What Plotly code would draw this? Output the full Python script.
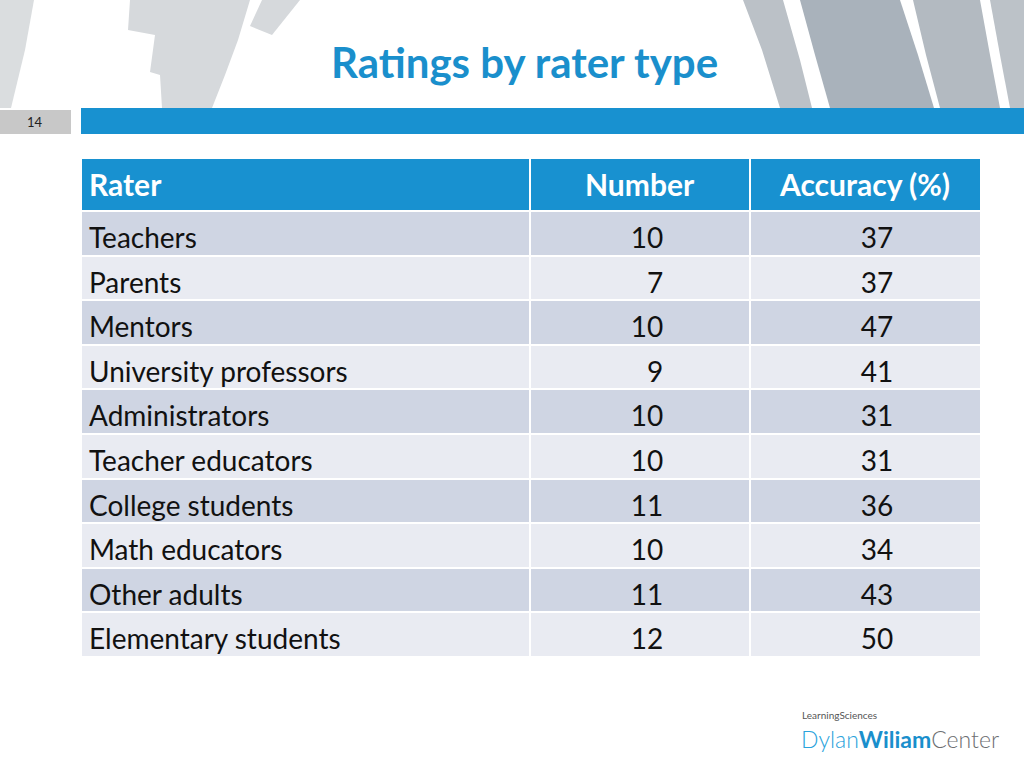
import plotly.graph_objects as go

# ---- data ----
title_text = "Ratings by rater type"
slide_number = "14"
columns = ["Rater", "Number", "Accuracy (%)"]
raters = ["Teachers", "Parents", "Mentors", "University professors", "Administrators",
          "Teacher educators", "College students", "Math educators", "Other adults",
          "Elementary students"]
numbers = [10, 7, 10, 9, 10, 10, 11, 10, 11, 12]
accuracy = [37, 37, 47, 41, 31, 31, 36, 34, 43, 50]

W, H = 1024, 768
BLUE = "#1891D0"
FONT = "Lato"
HEADER_H = 53
ROW_H = 44.6
TOP = 158
TEXT_DROP = 8  # rows' text sits low in its cell, as in the slide

def px(x):
    return x / W

def py(y):
    return 1 - y / H

num_text = [("\u2007" if n < 10 else "") + str(n) for n in numbers]
acc_text = [str(a) for a in accuracy]
row_colors = ["#CFD5E3" if i % 2 == 0 else "#E9EBF2" for i in range(len(raters))]
bottom = TOP + HEADER_H + ROW_H * len(raters)

fig = go.Figure()

# grid: header, fills and white rules
fig.add_trace(go.Table(
    domain=dict(x=[px(81), px(981)], y=[py(bottom), py(TOP)]),
    columnwidth=[449, 220, 231],
    header=dict(
        values=[f"<b>{c}</b>" for c in columns],
        fill_color=BLUE,
        line=dict(color="white", width=2),
        align=["left", "center", "center"],
        font=dict(family=FONT, size=30, color="white"),
        height=HEADER_H,
    ),
    cells=dict(
        values=[[""] * len(raters)] * 3,
        fill_color=[row_colors] * 3,
        line=dict(color="white", width=2),
        height=ROW_H,
        font=dict(family=FONT, size=12),
    ),
))

# body text layer
fig.add_trace(go.Table(
    domain=dict(x=[px(81), px(990)], y=[py(bottom + TEXT_DROP), py(TOP)]),
    columnwidth=[449, 234, 226],
    header=dict(
        values=["", "", ""],
        fill_color="rgba(0,0,0,0)",
        line=dict(color="rgba(0,0,0,0)", width=0),
        height=HEADER_H + TEXT_DROP,
        font=dict(family=FONT, size=12),
    ),
    cells=dict(
        values=[raters, num_text, acc_text],
        fill_color="rgba(0,0,0,0)",
        line=dict(color="rgba(0,0,0,0)", width=0),
        align=["left", "center", "center"],
        font=dict(family=FONT, size=28, color="#111111"),
        height=ROW_H,
    ),
))

# ---- decorative background arcs (slide template) ----
def band(pts, color):
    path = "M " + " L ".join(f"{x},{y}" for x, y in pts) + " Z"
    fig.add_shape(type="path", path=path, xref="x", yref="y",
                  fillcolor=color, line=dict(width=0), layer="below")

band([(0, 0), (34, 0), (25, 50), (11, 108), (0, 108)], "#DADDDF")
band([(130, 0), (250, 0), (238, 40), (225, 75), (212, 108), (162, 108), (160, 75),
      (150, 72), (155, 35), (128, 30)], "#D6D9DC")
band([(262, 0), (300, 0), (272, 35), (250, 26)], "#D6D9DC")
band([(743, 0), (783, 0), (800, 60), (812, 108), (780, 108), (762, 50)], "#BBC1C7")
band([(800, 0), (900, 0), (918, 55), (934, 108), (830, 108), (815, 55)], "#A9B2BB")
band([(913, 0), (980, 0), (990, 55), (1000, 108), (940, 108), (926, 55)], "#B3BAC1")
band([(990, 0), (1024, 0), (1024, 108), (1010, 108), (1000, 55)], "#BCC2C8")

# blue header bar and slide number box
fig.add_shape(type="rect", x0=81, x1=1024, y0=108, y1=134, xref="x", yref="y",
              fillcolor=BLUE, line=dict(width=0))
fig.add_shape(type="rect", x0=0, x1=71, y0=110, y1=134, xref="x", yref="y",
              fillcolor="#C8C8C8", line=dict(width=0))

fig.add_annotation(x=35, y=122, xref="x", yref="y", text=slide_number, showarrow=False,
                   font=dict(family=FONT, size=13, color="#222222"))

fig.add_annotation(x=524, y=62, xref="x", yref="y", text=f"<b>{title_text}</b>",
                   showarrow=False, font=dict(family=FONT, size=42, color="#1A8FCC"))

# logo text
fig.add_annotation(x=800, y=715, xref="x", yref="y", text="LearningSciences",
                   showarrow=False, xanchor="left", yanchor="middle",
                   font=dict(family=FONT, size=10, color="#555555"))
fig.add_annotation(x=799, y=739, xref="x", yref="y",
                   text="<span style='color:#2AA3DC'>Dylan</span><b>Wiliam</b>"
                        "<span style='color:#6D6E71'>Center</span>",
                   showarrow=False, xanchor="left", yanchor="middle",
                   font=dict(family=FONT, size=23, color="#1A8FCC", weight=300))

fig.update_xaxes(visible=False, range=[0, W], domain=[0, 1], fixedrange=True)
fig.update_yaxes(visible=False, range=[H, 0], domain=[0, 1], fixedrange=True)
fig.update_layout(width=W, height=H, margin=dict(l=0, r=0, t=0, b=0),
                  paper_bgcolor="white", plot_bgcolor="rgba(0,0,0,0)",
                  showlegend=False)

fig.write_html("out.html", config={"displayModeBar": False},
               post_script="document.body.style.margin='0px';")
